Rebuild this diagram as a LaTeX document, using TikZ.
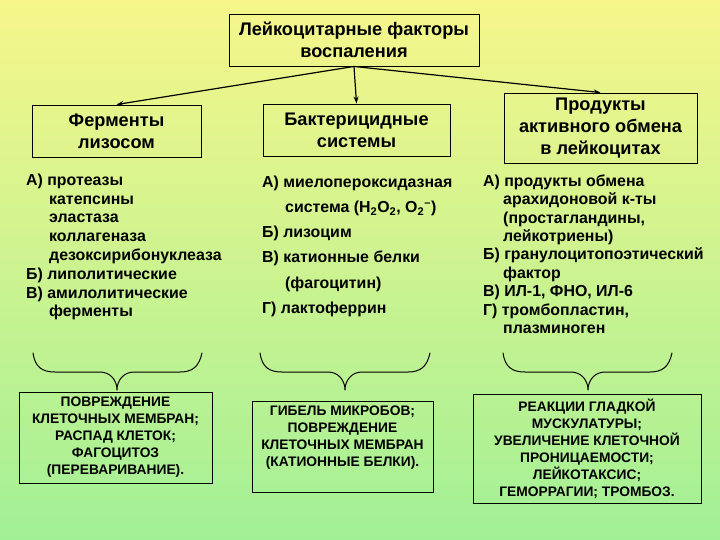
\documentclass[tikz,border=0pt]{standalone}
\usepackage{fontspec}
\setmainfont{Liberation Sans}
\usetikzlibrary{arrows.meta}
\definecolor{bgtop}{RGB}{246,246,138}
\definecolor{bgbot}{RGB}{162,240,150}
\begin{document}
\begin{tikzpicture}[x=1pt,y=-1pt,
  box/.style={draw=black, line width=0.9pt, inner sep=0pt, align=center},
  hdr/.style={font=\bfseries\fontsize{18.2}{22}\selectfont},
  lst/.style={font=\bfseries\fontsize{15.9}{18.8}\selectfont, align=left, inner sep=0pt, anchor=north west},
  btx/.style={font=\bfseries\fontsize{13.8}{17}\selectfont, align=center, inner sep=0pt},
  arr/.style={-{Stealth[length=7pt,width=5pt]}, line width=1.2pt},
  brc/.style={line width=1pt, line cap=round, line join=round}
]
\shade[top color=bgtop, bottom color=bgbot] (0,0) rectangle (720,540);
\useasboundingbox (0,0) rectangle (720,540);

% top box
\node[box,hdr,minimum width=250,minimum height=52] (top) at (354,40) {Лейкоцитарные факторы\\воспаления};

% second level
\node[box,hdr,minimum width=169,minimum height=52] (f1) at (116.5,131) {Ферменты\\лизосом};
\node[box,hdr,minimum width=187,minimum height=52] (f2) at (356.5,130) {Бактерицидные\\системы};
\node[box,hdr,minimum width=193,minimum height=70] (f3) at (600.5,128) {Продукты\\активного обмена\\в лейкоцитах};

\draw[arr] (top.south) -- (f1.north);
\draw[arr] (top.south) -- (f2.north);
\draw[arr] (top.south) -- (f3.north);

% lists
\node[lst] (l1) at (26,173.5) {А) протеазы\\
\hspace*{23pt}катепсины\\
\hspace*{23pt}эластаза\\
\hspace*{23pt}коллагеназа\\
\hspace*{23pt}дезоксирибонуклеаза\\
Б) липолитические\\
В) амилолитические\\
\hspace*{23pt}ферменты};

\node[lst,font=\bfseries\fontsize{15.9}{25.2}\selectfont] (l2) at (262,175.5) {А) миелопероксидазная\\
\hspace*{23pt}система (H\textsubscript{2}O\textsubscript{2}, O\textsubscript{2}\textsuperscript{–})\\
Б) лизоцим\\
В) катионные белки\\
\hspace*{23pt}(фагоцитин)\\
Г) лактоферрин};

\node[lst,font=\bfseries\fontsize{15.9}{18.4}\selectfont] (l3) at (483,174.5) {А) продукты обмена\\
\hspace*{20pt}арахидоновой к-ты\\
\hspace*{20pt}(простагландины,\\
\hspace*{20pt}лейкотриены)\\
Б) гранулоцитопоэтический\\
\hspace*{20pt}фактор\\
В) ИЛ-1, ФНО, ИЛ-6\\
Г) тромбопластин,\\
\hspace*{20pt}плазминоген};

% braces
\draw[brc] (33,353) .. controls (35,367) and (42,372) .. (55,372) -- (100,372)
  .. controls (110,372) and (117,380) .. (117,390)
  .. controls (117,380) and (124,372) .. (134,372) -- (180,372)
  .. controls (192,372) and (199,367) .. (202,353);
\draw[brc] (260,353) .. controls (262,367) and (269,372) .. (282,372) -- (328,372)
  .. controls (338,372) and (345,380) .. (345,390)
  .. controls (345,380) and (352,372) .. (362,372) -- (408,372)
  .. controls (420,372) and (427,367) .. (430,353);
\draw[brc] (503,353) .. controls (505,367) and (512,372) .. (525,372) -- (571,372)
  .. controls (581,372) and (588,380) .. (588,390)
  .. controls (588,380) and (595,372) .. (605,372) -- (650,372)
  .. controls (662,372) and (669,367) .. (672,353);

% bottom boxes
\node[box,btx,minimum width=193,minimum height=91] (b1) at (115.5,437.5) {ПОВРЕЖДЕНИЕ\\КЛЕТОЧНЫХ МЕМБРАН;\\РАСПАД КЛЕТОК;\\ФАГОЦИТОЗ\\(ПЕРЕВАРИВАНИЕ).};
\node[box,minimum width=181,minimum height=91] (b2) at (342.5,446.5) {};
\node[btx] (b2t) at (342.5,437.5) {ГИБЕЛЬ МИКРОБОВ;\\ПОВРЕЖДЕНИЕ\\КЛЕТОЧНЫХ МЕМБРАН\\(КАТИОННЫЕ БЕЛКИ).};
\node[box,btx,minimum width=228,minimum height=109] (b3) at (587,448.5) {РЕАКЦИИ ГЛАДКОЙ\\МУСКУЛАТУРЫ;\\УВЕЛИЧЕНИЕ КЛЕТОЧНОЙ\\ПРОНИЦАЕМОСТИ;\\ЛЕЙКОТАКСИС;\\ГЕМОРРАГИИ; ТРОМБОЗ.};
\end{tikzpicture}
\end{document}
